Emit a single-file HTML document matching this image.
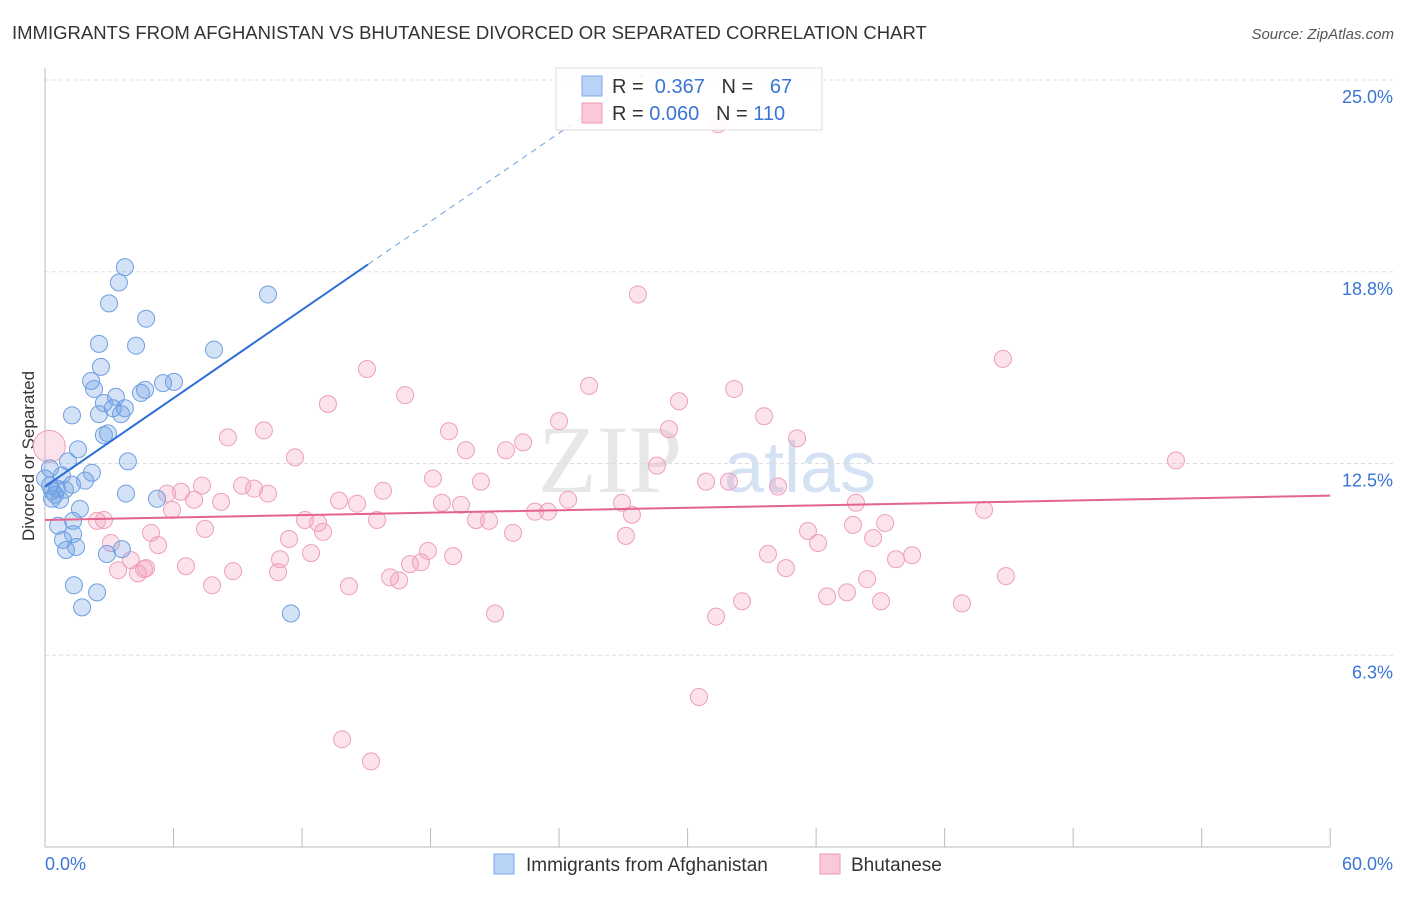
<!DOCTYPE html>
<html><head><meta charset="utf-8"><style>
body{margin:0;background:#fff;font-family:"Liberation Sans",sans-serif}
</style></head><body>
<svg id="c" width="1406" height="892" xmlns="http://www.w3.org/2000/svg">
<text x="12" y="39" font-size="18.5" fill="#333">IMMIGRANTS FROM AFGHANISTAN VS BHUTANESE DIVORCED OR SEPARATED CORRELATION CHART</text>
<text x="1394" y="39" font-size="15" fill="#555" font-style="italic" text-anchor="end">Source: ZipAtlas.com</text>
<text transform="translate(34,456) rotate(-90)" font-size="17" fill="#333" text-anchor="middle">Divorced or Separated</text>
<text x="610" y="492" font-size="96" fill="#d8d8d8" font-family="Liberation Serif" text-anchor="middle" opacity="0.6">ZIP</text>
<text x="800" y="492" font-size="72" fill="#b8d0ee" text-anchor="middle" opacity="0.6">atlas</text>
<g id="grid"></g><g id="axes"></g><g id="pts"></g><g id="trend"></g>
<g>
<rect x="556" y="68" width="266" height="62" fill="#fff" fill-opacity="0.85" stroke="#ddd"/>
<rect x="582" y="76" width="20" height="20" fill="#b8d3f5" stroke="#7eaae8"/>
<rect x="582" y="103" width="20" height="20" fill="#f9c9d8" stroke="#ee9ab6"/>
<text x="612" y="93" font-size="20" fill="#333">R = <tspan fill="#3a75d6">&#160;0.367</tspan>&#160;&#160;&#160;N = <tspan fill="#3a75d6">&#160;&#160;67</tspan></text>
<text x="612" y="120" font-size="20" fill="#333">R = <tspan fill="#3a75d6">0.060</tspan>&#160;&#160;&#160;N = <tspan fill="#3a75d6">110</tspan></text>
</g>
<g>
<rect x="494" y="854" width="20" height="20" fill="#b8d3f5" stroke="#7eaae8"/>
<text x="526" y="871" font-size="19" fill="#333">Immigrants from Afghanistan</text>
<rect x="820" y="854" width="20" height="20" fill="#f9c9d8" stroke="#ee9ab6"/>
<text x="851" y="871" font-size="19" fill="#333">Bhutanese</text>
</g>
</svg>
<script>
const yTicks=[25,18.75,12.5,6.25];
const yTickLabels=["25.0%","18.8%","12.5%","6.3%"];
const xTicks=[0,6,12,18,24,30,36,42,48,54,60];
const blueX=[3.73,3.45,2.99,4.72,10.41,2.52,4.25,7.89,2.61,2.15,2.29,6.02,5.51,4.67,4.48,3.31,2.75,3.17,3.73,1.26,2.52,3.55,2.94,2.75,1.54,3.87,1.07,2.19,0.23,0.79,1.87,1.26,0.56,0.47,0.93,0.33,0.7,1.63,3.78,5.23,1.31,0.61,1.31,0.84,1.45,0.98,2.89,3.59,1.35,2.43,1.73,11.48,0.23,0,0.33];
const blueY=[18.9,18.4,17.72,17.22,18.01,16.4,16.34,16.21,15.65,15.19,14.93,15.16,15.12,14.9,14.8,14.67,14.47,14.3,14.3,14.07,14.11,14.11,13.48,13.42,12.96,12.57,12.57,12.2,12.34,12.11,11.94,11.81,11.68,11.48,11.65,11.35,11.32,11.02,11.52,11.35,10.63,10.47,10.2,10.01,9.78,9.68,9.55,9.71,8.53,8.3,7.81,7.61,11.78,12.01,11.61];
const pinkX=[31.42,27.68,44.72,15.03,25.4,32.17,16.81,13.21,29.6,33.57,24.0,8.54,18.86,10.22,35.11,29.13,22.32,19.65,21.52,11.67,28.57,52.8,18.11,20.35,30.86,31.93,34.22,7.33,9.2,9.76,15.78,10.41,5.7,6.35,6.96,8.22,13.73,14.57,18.53,19.42,24.42,26.94,37.86,43.84,22.88,23.48,27.4,5.93,15.5,12.14,12.75,20.12,20.73,2.75,2.43,39.22,37.72,7.47,12.98,21.85,4.95,11.39,35.62,38.66,27.12,36.09,5.28,3.08,12.42,17.88,19.05,33.75,40.48,39.73,10.97,4.01,17.04,17.55,4.72,34.59,6.58,3.41,4.62,4.34,10.88,8.78,16.11,16.53,44.86,38.38,7.8,14.19,37.44,36.51,32.54,39.03,42.81,21.01,31.33,30.53,13.87,15.22];
const pinkY=[23.56,18.01,15.91,15.58,15.03,14.93,14.73,14.44,14.53,14.04,13.88,13.35,13.55,13.58,13.32,13.62,13.19,12.93,12.93,12.7,12.43,12.6,12.01,11.91,11.91,11.91,11.75,11.78,11.78,11.68,11.61,11.52,11.52,11.58,11.32,11.25,11.29,11.19,11.22,11.15,11.32,11.22,11.22,10.99,10.93,10.93,10.83,10.99,10.66,10.66,10.56,10.66,10.63,10.66,10.63,10.56,10.5,10.37,10.27,10.24,10.24,10.04,10.3,10.07,10.14,9.91,9.84,9.91,9.58,9.65,9.48,9.55,9.51,9.38,9.38,9.35,9.22,9.28,9.09,9.09,9.15,9.02,9.06,8.92,8.96,8.99,8.79,8.69,8.83,8.73,8.53,8.5,8.3,8.17,8.01,8.01,7.94,7.61,7.51,4.89,3.51,2.79];
const bigPink=[0.2,13.06];
const blueTrend=[11.75,0.48];   // intercept, slope
const pinkTrend=[10.66,0.0132];
const NS="http://www.w3.org/2000/svg";
const X=v=>45+v*21.42, Y=v=>847-v*30.68;
function mk(t,a,p){const e=document.createElementNS(NS,t);for(const k in a)e.setAttribute(k,a[k]);p.appendChild(e);return e;}
const grid=document.getElementById('grid'),axes=document.getElementById('axes'),pts=document.getElementById('pts'),tr=document.getElementById('trend');
yTicks.forEach((v,i)=>{
 const l=mk('line',{x1:45,x2:1393,y1:Y(v),y2:Y(v),stroke:'#ddd','stroke-dasharray':'4,3'},grid);
 
 
 const t=mk('text',{x:1393,y:Y(v)+23,'font-size':18,fill:'#3a75d6','text-anchor':'end'},axes);
 t.textContent=yTickLabels[i];
 
 
});
mk('line',{x1:45,x2:45,y1:68,y2:847,stroke:'#bbb'},axes);
mk('line',{x1:45,x2:1330,y1:847,y2:847,stroke:'#bbb'},axes);
xTicks.forEach(v=>{const l=mk('line',{x1:X(v),x2:X(v),y1:828,y2:847,stroke:'#bbb'},axes);
 
 });
const xl0=mk('text',{x:45,y:870,'font-size':18,fill:'#3a75d6'},axes);xl0.textContent='0.0%';


const xl1=mk('text',{x:1393,y:870,'font-size':18,fill:'#3a75d6','text-anchor':'end'},axes);xl1.textContent='60.0%';


pinkX.forEach((x,i)=>{const c=mk('circle',{cx:X(x),cy:Y(pinkY[i]),r:8.5,fill:'rgba(244,160,190,0.3)',stroke:'#eda0bb','stroke-width':1},pts);
 
 });
const bp=mk('circle',{cx:X(bigPink[0]),cy:Y(bigPink[1]),r:16,fill:'rgba(244,160,190,0.3)',stroke:'#eda0bb'},pts);


blueX.forEach((x,i)=>{const c=mk('circle',{cx:X(x),cy:Y(blueY[i]),r:8.5,fill:'rgba(110,160,230,0.3)',stroke:'#6f9fe0','stroke-width':1},pts);
 
 });
const b1=mk('line',{x1:X(0),y1:Y(blueTrend[0]),x2:X(15.08),y2:Y(blueTrend[0]+blueTrend[1]*15.08),stroke:'#2d6fd6','stroke-width':2},tr);


const b2=mk('line',{x1:X(15.08),y1:Y(blueTrend[0]+blueTrend[1]*15.08),x2:X(28.3),y2:Y(blueTrend[0]+blueTrend[1]*28.3),stroke:'#6f9fe0','stroke-width':1,'stroke-dasharray':'6,5'},tr);


const p1=mk('line',{x1:X(0),y1:Y(pinkTrend[0]),x2:X(60),y2:Y(pinkTrend[0]+pinkTrend[1]*60),stroke:'#e4648f','stroke-width':2},tr);


</script>
</body></html>
